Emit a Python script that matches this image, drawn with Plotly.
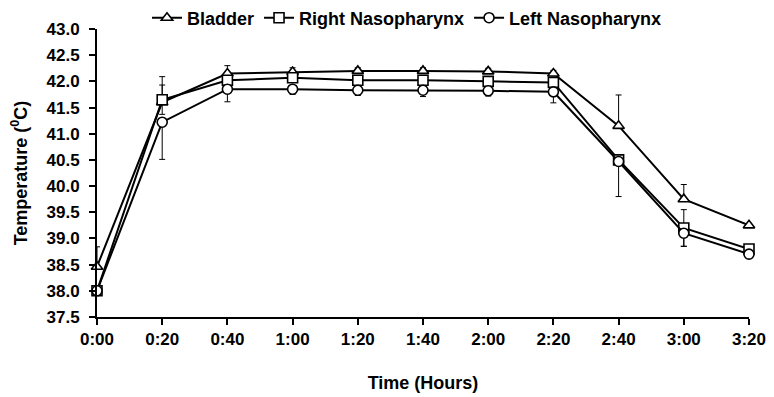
import plotly.graph_objects as go

minutes = [0, 20, 40, 60, 80, 100, 120, 140, 160, 180, 200]
tick_labels = ["0:00", "0:20", "0:40", "1:00", "1:20", "1:40", "2:00", "2:20", "2:40", "3:00", "3:20"]

bladder = [38.46, 41.60, 42.15, 42.18, 42.20, 42.20, 42.19, 42.15, 41.15, 39.75, 39.25]
bladder_err_up = [0.38, 0.49, 0.15, 0.08, 0.06, 0.06, 0.06, 0.06, 0.59, 0.28, 0.0]

right_naso = [38.00, 41.65, 42.02, 42.07, 42.02, 42.02, 42.00, 41.98, 40.50, 39.20, 38.80]
right_err = [0.05, 0.28, 0.06, 0.05, 0.05, 0.05, 0.05, 0.05, 0.05, 0.35, 0.0]

left_naso = [38.00, 41.22, 41.85, 41.85, 41.83, 41.83, 41.82, 41.80, 40.47, 39.10, 38.70]
left_err_down = [0.0, 0.71, 0.24, 0.10, 0.10, 0.12, 0.10, 0.21, 0.67, 0.25, 0.0]

zeros = [0] * len(minutes)

font_family = "Liberation Sans, Arial, sans-serif"

# the page body adds an 8px margin, so the figure is 8px smaller each way
W, H = 766, 389

fig = go.Figure()

def add(name, y, symbol, plus, minus):
    fig.add_trace(go.Scatter(
        x=minutes, y=y, name=name, mode="lines+markers",
        line=dict(color="black", width=2),
        marker=dict(symbol=symbol, size=10, color="white",
                    line=dict(color="black", width=1.6)),
        error_y=dict(type="data", array=plus, arrayminus=minus, symmetric=False,
                     color="black", thickness=1, width=3),
        cliponaxis=False,
    ))

add("Bladder", bladder, "triangle-up", bladder_err_up, zeros)
add("Right Nasopharynx", right_naso, "square", right_err, right_err)
add("Left Nasopharynx", left_naso, "circle", zeros, left_err_down)

fig.update_layout(
    width=W, height=H,
    margin=dict(l=89, r=25, t=21, b=80, autoexpand=False),
    plot_bgcolor="white", paper_bgcolor="white",
    font=dict(family=font_family, color="black", size=17, weight="bold"),
    showlegend=True,
    legend=dict(orientation="h", xref="container", yref="container",
                x=399 / W, xanchor="center", y=1 - 10 / H, yanchor="middle",
                font=dict(size=18, weight="bold"), itemwidth=30,
                bgcolor="rgba(0,0,0,0)"),
)

fig.update_xaxes(
    range=[0, 200], tickvals=minutes, ticktext=tick_labels,
    showline=True, linecolor="black", linewidth=2,
    ticks="outside", ticklen=6, tickwidth=1.5, tickcolor="black",
    showgrid=False, zeroline=False,
    tickfont=dict(size=17, weight="bold"),
    title=dict(text="Time (Hours)", font=dict(size=18, weight="bold"), standoff=28),
)
fig.update_yaxes(
    range=[37.5, 43.0], dtick=0.5, tick0=37.5, tickformat=".1f",
    showline=True, linecolor="black", linewidth=2,
    ticks="outside", ticklen=6, tickwidth=1.5, tickcolor="black",
    showgrid=False, zeroline=False,
    tickfont=dict(size=17, weight="bold"),
    ticklabelstandoff=6,
    title=dict(text="Temperature (<sup>0</sup>C)", font=dict(size=18, weight="bold"), standoff=17),
)

fig.write_html("out.html")
